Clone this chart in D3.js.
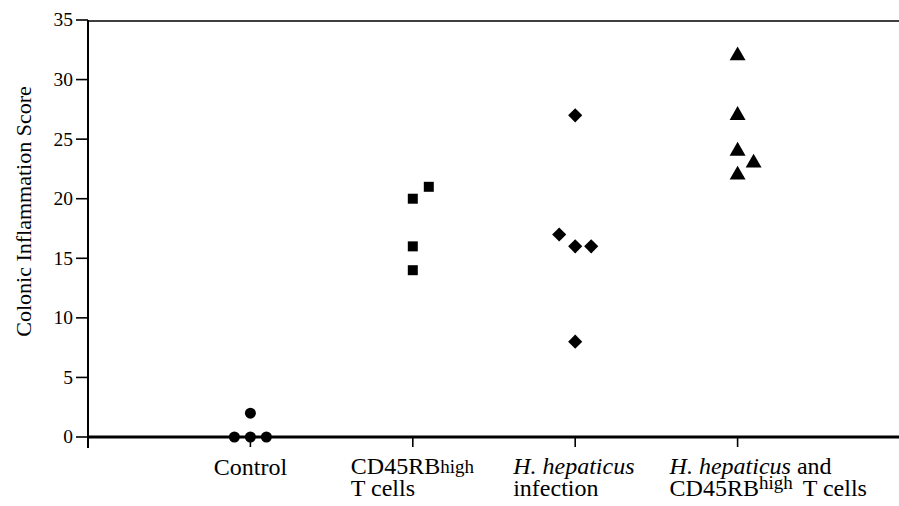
<!DOCTYPE html>
<html>
<head>
<meta charset="utf-8">
<script src="https://cdn.jsdelivr.net/npm/d3@7"></script>
<style>
  html, body { margin: 0; padding: 0; background: #fff; }
  svg { display: block; }
</style>
</head>
<body>
<svg id="chart" width="899" height="506"></svg>
<script>
// ---- data ----
const groups = ["Control", "CD45RBhigh T cells", "H. hepaticus infection", "H. hepaticus and CD45RBhigh T cells"];
const groupPos = [1, 2, 3, 4];
const controlScores = [0, 0, 0, 2];
const controlDodge  = [-1, 0, 1, 0];
const cd45Scores = [20, 21, 16, 14];
const cd45Dodge  = [0, 1, 0, 0];
const hhScores = [27, 17, 16, 16, 8];
const hhDodge  = [0, -1, 0, 1, 0];
const hhCd45Scores = [32, 27, 24, 23, 22];
const hhCd45Dodge  = [0, 0, 0, 1, 0];
const yTicks = [0, 5, 10, 15, 20, 25, 30, 35];
const xTicks = [0, 1, 2, 3, 4];
const yLabel = "Colonic Inflammation Score";

// ---- layout ----
const FONT = "'Liberation Serif', 'Times New Roman', Times, serif";
const svg = d3.select("#chart");
const x = d3.scaleLinear().domain([0, 5]).range([88, 900]);
const y = d3.scaleLinear().domain([0, 35]).range([437, 20]);
const dodgePx = 16;

// top line
svg.append("line").attr("x1", x(0)).attr("x2", 899).attr("y1", y(35) + 1).attr("y2", y(35) + 1)
  .attr("stroke", "#000").attr("stroke-width", 1.6);

// y axis
const yAxis = svg.append("g");
yAxis.append("line").attr("x1", x(0)).attr("x2", x(0)).attr("y1", y(35)).attr("y2", y(0) + 11)
  .attr("stroke", "#000").attr("stroke-width", 2);
yTicks.forEach(t => {
  yAxis.append("line").attr("x1", x(0) - 12).attr("x2", x(0)).attr("y1", y(t)).attr("y2", y(t))
    .attr("stroke", "#000").attr("stroke-width", 1.6);
  yAxis.append("text").attr("x", x(0) - 15).attr("y", y(t))
    .attr("text-anchor", "end").attr("dy", "0.33em")
    .attr("font-family", FONT).attr("font-size", 19.5).attr("fill", "#000").text(t);
});

// x axis
svg.append("line").attr("x1", x(0)).attr("x2", 899).attr("y1", y(0)).attr("y2", y(0))
  .attr("stroke", "#000").attr("stroke-width", 3);
xTicks.forEach(t => {
  svg.append("line").attr("x1", x(t)).attr("x2", x(t)).attr("y1", y(0)).attr("y2", y(0) + 10)
    .attr("stroke", "#000").attr("stroke-width", 1.6);
});

// y label
svg.append("text").attr("transform", `translate(31,${(y(35) + y(0)) / 2 - 17}) rotate(-90)`)
  .attr("text-anchor", "middle").attr("font-family", FONT).attr("font-size", 22)
  .attr("fill", "#000").text(yLabel);

// x labels: one text element per category, lines as tspans
function label(xp, yp, anchor, lines) {
  const t = svg.append("text").attr("x", xp).attr("y", yp)
    .attr("text-anchor", anchor).attr("font-family", FONT).attr("font-size", 24).attr("fill", "#000");
  lines.forEach((parts, li) => {
    parts.forEach((p, pi) => {
      const s = t.append("tspan").text(p.t);
      if (pi === 0) s.attr("x", xp).attr("y", yp + li * 21.5);
      if (p.i) s.attr("font-style", "italic");
      if (p.fs) s.attr("font-size", p.fs);
      if (p.dy) s.attr("dy", p.dy);
      if (p.dx) s.attr("dx", p.dx);
    });
  });
}
const lx = groupPos.map(p => x(p));
label(lx[0], 475, "middle", [[{ t: "Control" }]]);
label(lx[1] - 62, 474, "start", [[{ t: "CD45RB" }, { t: "high", fs: 19, dy: -1 }], [{ t: "T cells" }]]);
label(lx[2] - 62, 474, "start", [[{ t: "H. hepaticus", i: true }], [{ t: "infection" }]]);
label(lx[3] - 68, 474, "start", [[{ t: "H. hepaticus", i: true }, { t: "\u00a0and" }],
  [{ t: "CD45RB" }, { t: "high", fs: 19, dy: -7 }, { t: "\u00a0T cells", dy: 7, dx: 4 }]]);

// ---- points ----
const series = [
  { pos: groupPos[0], vals: controlScores, dodge: controlDodge, type: d3.symbolCircle, size: 95, rot: 0 },
  { pos: groupPos[1], vals: cd45Scores, dodge: cd45Dodge, type: d3.symbolSquare, size: 100, rot: 0 },
  { pos: groupPos[2], vals: hhScores, dodge: hhDodge, type: d3.symbolSquare, size: 100, rot: 45 },
  { pos: groupPos[3], vals: hhCd45Scores, dodge: hhCd45Dodge, type: d3.symbolTriangle, size: 110, rot: 0 }
];
series.forEach(s => {
  const sym = d3.symbol().type(s.type).size(s.size);
  svg.append("g").selectAll("path").data(s.vals).join("path")
    .attr("d", sym)
    .attr("transform", (d, i) => `translate(${x(s.pos) + s.dodge[i] * dodgePx},${y(d)}) rotate(${s.rot})`)
    .attr("fill", "#000");
});
</script>
</body>
</html>
